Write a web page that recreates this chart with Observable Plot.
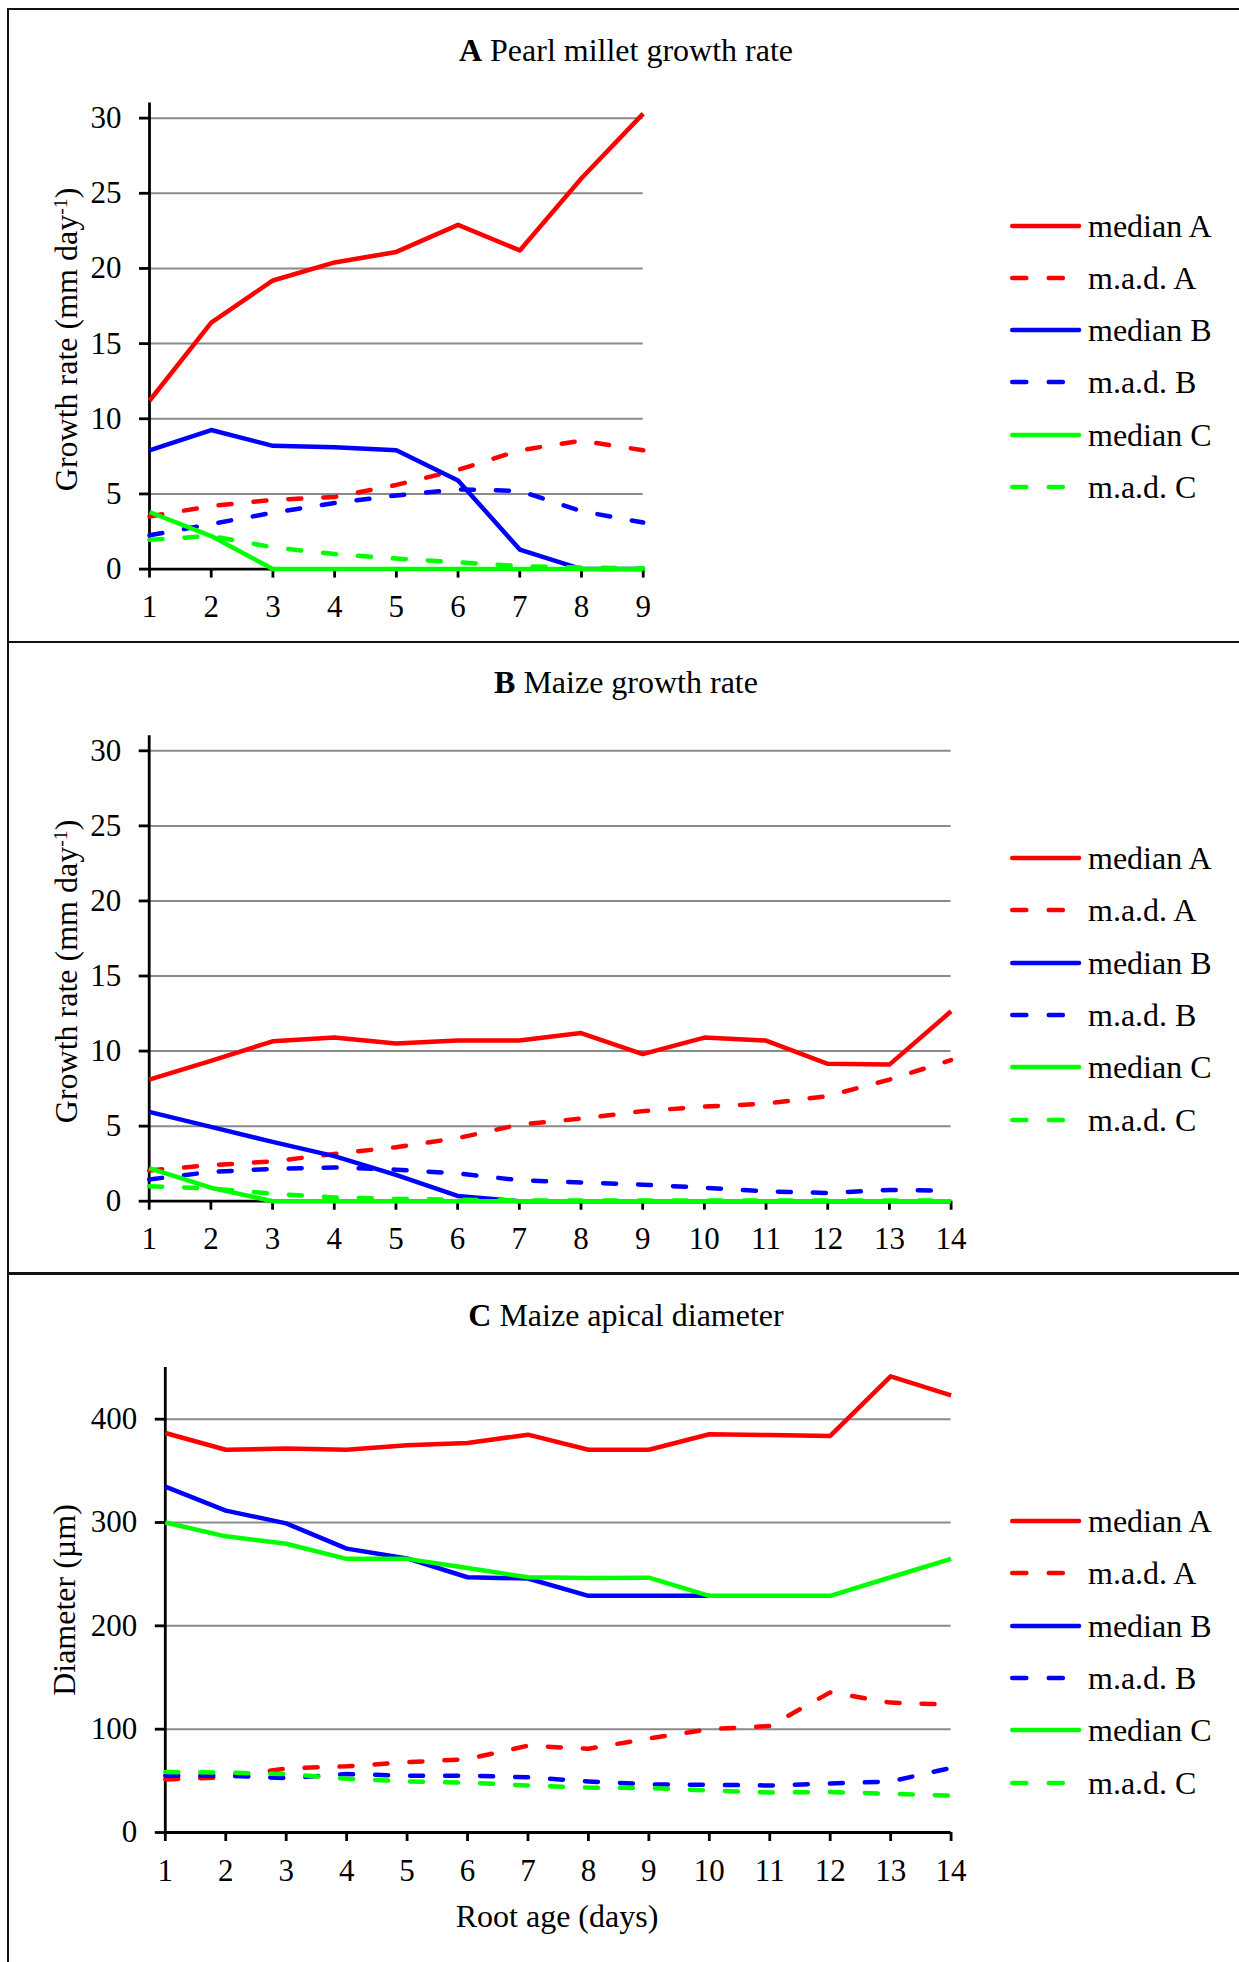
<!DOCTYPE html>
<html>
<head>
<meta charset="utf-8">
<script src="https://cdn.jsdelivr.net/npm/d3@7"></script>
<script src="https://cdn.jsdelivr.net/npm/@observablehq/plot@0.6"></script>
<style>
html, body { margin: 0; padding: 0; background: #fff; }
#fig { position: relative; width: 1239px; height: 1962px; overflow: hidden; background: #fff;
  font-family: 'Liberation Serif', 'Times New Roman', serif; color: #000; }
.rule { position: absolute; background: #111; }
.txt { position: absolute; line-height: 0; white-space: nowrap; font-size: 32px; }
.ctr { transform: translateX(-50%); }
.ylab { position: absolute; width: 0; height: 0; }
.ylab span { position: absolute; left: 0; top: 0; line-height: 0; white-space: nowrap; font-size: 32px;
  transform: translate(-50%, 0) rotate(-90deg); }
.ylab sup { font-size: 0.62em; line-height: 0; vertical-align: 0.55em; }
svg.panel { position: absolute; overflow: visible; font-family: 'Liberation Serif', 'Times New Roman', serif; }
svg.panel text { font-family: 'Liberation Serif', 'Times New Roman', serif; }
svg.sw { position: absolute; overflow: visible; }
</style>
</head>
<body>
<div id="fig"></div>
<script>
// ---------- data ----------
const seriesNames = ["median A", "m.a.d. A", "median B", "m.a.d. B", "median C", "m.a.d. C"];
const seriesColors = ["#ff0000", "#ff0000", "#0000ff", "#0000ff", "#00ff00", "#00ff00"];
const seriesDashed = [false, true, false, true, false, true];

// A: Pearl millet growth rate (mm day-1)
const milletDays = [1, 2, 3, 4, 5, 6, 7, 8, 9];
const milletMedianA = [11.2, 16.4, 19.2, 20.4, 21.1, 22.9, 21.2, 26.0, 30.3];
const milletMadA = [3.5, 4.2, 4.6, 4.8, 5.6, 6.6, 7.9, 8.55, 7.9];
const milletMedianB = [7.9, 9.25, 8.2, 8.1, 7.9, 5.9, 1.3, 0, 0];
const milletMadB = [2.25, 3.0, 3.75, 4.4, 4.9, 5.3, 5.2, 3.85, 3.1];
const milletMedianC = [3.8, 2.2, 0, 0, 0, 0, 0, 0, 0];
const milletMadC = [1.95, 2.2, 1.45, 1.0, 0.7, 0.45, 0.2, 0.1, 0.05];
const milletYTicks = [0, 5, 10, 15, 20, 25, 30];

// B: Maize growth rate (mm day-1)
const maizeDays = [1, 2, 3, 4, 5, 6, 7, 8, 9, 10, 11, 12, 13, 14];
const maizeMedianA = [8.1, 9.35, 10.65, 10.9, 10.5, 10.7, 10.7, 11.2, 9.8, 10.9, 10.7, 9.15, 9.1, 12.65];
const maizeMadA = [2.05, 2.4, 2.65, 3.15, 3.6, 4.2, 5.1, 5.5, 6.0, 6.3, 6.5, 7.0, 8.1, 9.4];
const maizeMedianB = [5.95, 4.95, 3.95, 3.0, 1.75, 0.35, 0, 0, 0, 0, 0, 0, 0, 0];
const maizeMadB = [1.45, 1.95, 2.15, 2.25, 2.1, 1.85, 1.4, 1.25, 1.1, 0.9, 0.65, 0.55, 0.75, 0.7];
const maizeMedianC = [2.2, 0.9, 0, 0, 0, 0, 0, 0, 0, 0, 0, 0, 0, 0];
const maizeMadC = [1.0, 0.85, 0.5, 0.25, 0.15, 0.1, 0.05, 0.05, 0.05, 0.05, 0.05, 0.05, 0.05, 0.05];
const maizeYTicks = [0, 5, 10, 15, 20, 25, 30];

// C: Maize apical diameter (µm)
const diamDays = [1, 2, 3, 4, 5, 6, 7, 8, 9, 10, 11, 12, 13, 14];
const diamMedianA = [386.6, 370.4, 371.5, 370.4, 374.7, 377, 385, 370.4, 370.4, 385.4, 384.6, 383.8, 441.5, 423];
const diamMadA = [51.4, 53.4, 62, 64, 68, 71, 84, 81, 91, 100, 103, 135.6, 125.7, 123.7];
const diamMedianB = [334.8, 311.5, 299.2, 274.7, 265.2, 247, 245.8, 229, 229, 229];
const diamMadB = [55, 55, 52.6, 56.5, 55, 55, 53.4, 49.4, 46.6, 46.2, 45.5, 47.4, 49.4, 62.5];
const diamMedianC = [300, 286.6, 279.4, 264.8, 264.8, 256, 247, 246.2, 246.6, 229, 229, 229, 247, 264.8];
const diamMadC = [58.5, 58, 56.5, 52, 49.4, 48.2, 45.5, 43.5, 43, 40.7, 38.7, 39.1, 37.5, 35.6];
const diamYTicks = [0, 100, 200, 300, 400];

// ---------- layout ----------
const fig = document.getElementById("fig");
const FONT = "'Liberation Serif', 'Times New Roman', serif";

function addRule(l, t, w, h) {
  const d = document.createElement("div");
  d.className = "rule";
  Object.assign(d.style, {left: l + "px", top: t + "px", width: w + "px", height: h + "px"});
  fig.appendChild(d);
}
addRule(7.3, 8, 1239, 2.2);
addRule(7.3, 8, 2.2, 1962);
addRule(7.3, 640.7, 1239, 2.2);
addRule(7.3, 1272.4, 1239, 2.5);

function addText(html, x, y, center, size) {
  const d = document.createElement("div");
  d.className = "txt" + (center ? " ctr" : "");
  d.style.left = x + "px";
  d.style.top = y + "px";
  if (size) d.style.fontSize = size + "px";
  d.innerHTML = html;
  fig.appendChild(d);
}
function addYLabel(html, x, y) {
  const d = document.createElement("div");
  d.className = "ylab";
  d.style.left = x + "px";
  d.style.top = y + "px";
  d.innerHTML = "<span>" + html + "</span>";
  fig.appendChild(d);
}

function makePanel(cfg) {
  const {days, values, yTicks, yMax, svgTop, svgHeight, svgWidth, plotLeft, plotRight, plotTop, plotBottom} = cfg;
  const lineMarks = values.map((vals, i) => {
    const rows = vals.map((v, j) => ({day: days[j], value: v}));
    return Plot.line(rows, {
      x: "day", y: "value",
      stroke: seriesColors[i],
      strokeWidth: 4.5,
      strokeLinejoin: "round",
      strokeLinecap: seriesDashed[i] ? "round" : "butt",
      strokeDasharray: seriesDashed[i] ? "13 22" : null
    });
  });
  const chart = Plot.plot({
    width: svgWidth,
    height: svgHeight,
    marginLeft: plotLeft,
    marginRight: svgWidth - plotRight,
    marginTop: plotTop - svgTop,
    marginBottom: svgTop + svgHeight - plotBottom,
    x: {domain: [days[0], days[days.length - 1]]},
    y: {domain: [0, yMax]},
    style: {fontFamily: FONT, fontSize: "31px", color: "#000", background: "transparent", overflow: "visible"},
    marks: [
      Plot.ruleY(yTicks.filter(t => t > 0), {stroke: "#8a8a8a", strokeWidth: 2}),
      Plot.axisY(yTicks, {tickSize: 10, tickPadding: 18, strokeWidth: 2.8, fontSize: 31, fontFamily: FONT, label: null}),
      Plot.axisX(days, {tickSize: 9, tickPadding: 17, strokeWidth: 2.8, fontSize: 31, fontFamily: FONT, label: null}),
      Plot.ruleX([days[0]], {stroke: "#000", strokeWidth: 2.8}),
      Plot.ruleY([0], {stroke: "#000", strokeWidth: 2.8}),
      ...lineMarks
    ]
  });
  chart.classList.add("panel");
  chart.style.left = "0px";
  chart.style.top = svgTop + "px";
  fig.appendChild(chart);
}

function makeLegend(top) {
  const step = 52.3;
  seriesNames.forEach((name, i) => {
    const y = top + i * step;
    const ns = "http://www.w3.org/2000/svg";
    const svg = document.createElementNS(ns, "svg");
    svg.setAttribute("class", "sw");
    svg.setAttribute("width", 80);
    svg.setAttribute("height", 10);
    svg.style.left = "1006px";
    svg.style.top = (y - 5) + "px";
    const ln = document.createElementNS(ns, "line");
    ln.setAttribute("y1", 5);
    ln.setAttribute("y2", 5);
    ln.setAttribute("stroke", seriesColors[i]);
    ln.setAttribute("stroke-width", 4.6);
    ln.setAttribute("stroke-linecap", "round");
    if (seriesDashed[i]) {
      ln.setAttribute("x1", 6.3);
      ln.setAttribute("x2", 57);
      ln.setAttribute("stroke-dasharray", "14 22.5");
    } else {
      ln.setAttribute("x1", 6.3);
      ln.setAttribute("x2", 73);
    }
    svg.appendChild(ln);
    fig.appendChild(svg);
    addText(name, 1088, y, false, 32);
  });
}

// Panel A
addText("<b>A</b> Pearl millet growth rate", 626, 49.7, true, 32);
makePanel({
  days: milletDays,
  values: [milletMedianA, milletMadA, milletMedianB, milletMadB, milletMedianC, milletMadC],
  yTicks: milletYTicks, yMax: 31,
  svgTop: 90, svgHeight: 560, svgWidth: 700,
  plotLeft: 149, plotRight: 642.7, plotTop: 102.6, plotBottom: 568.6
});
addYLabel("Growth rate (mm day<sup>-1</sup>)", 63, 336);
makeLegend(225.5);

// Panel B
addText("<b>B</b> Maize growth rate", 626, 681.7, true, 32);
makePanel({
  days: maizeDays,
  values: [maizeMedianA, maizeMadA, maizeMedianB, maizeMadB, maizeMedianC, maizeMadC],
  yTicks: maizeYTicks, yMax: 31,
  svgTop: 700, svgHeight: 560, svgWidth: 1000,
  plotLeft: 148.7, plotRight: 950.6, plotTop: 735.3, plotBottom: 1200.7
});
addYLabel("Growth rate (mm day<sup>-1</sup>)", 63, 968);
makeLegend(858);

// Panel C
addText("<b>C</b> Maize apical diameter", 626, 1315, true, 32);
makePanel({
  days: diamDays,
  values: [diamMedianA, diamMadA, diamMedianB, diamMadB, diamMedianC, diamMadC],
  yTicks: diamYTicks, yMax: 450,
  svgTop: 1340, svgHeight: 560, svgWidth: 1000,
  plotLeft: 164.8, plotRight: 950.6, plotTop: 1367, plotBottom: 1832
});
addYLabel("Diameter (µm)", 64, 1600);
addText("Root age (days)", 557, 1916, true, 32);
makeLegend(1521);
</script>
</body>
</html>
